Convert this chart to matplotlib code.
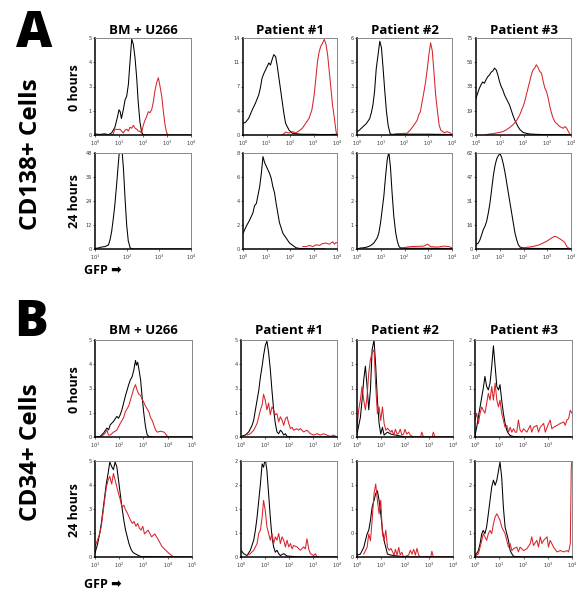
import numpy as np
import matplotlib
matplotlib.use("Agg")
import matplotlib.pyplot as plt

# ---------------- datos (x en log10 del canal GFP, y = cuentas) ----------------
# Panel A, CD138+ : BM + U266
a_bm0_blk_x = [0.0, 0.2, 0.4, 0.55, 0.62, 0.7, 0.83, 0.93, 1.0, 1.05, 1.1, 1.18, 1.25, 1.32, 1.39, 1.46, 1.53, 1.6, 1.67, 1.74, 1.8, 1.87, 1.94, 2.0, 2.2, 3.0, 4.0]
a_bm0_blk_y = [0.05, 0.03, 0.06, 0.02, 0.05, 0.12, 0.4, 0.9, 1.3, 1.2, 0.85, 1.3, 1.8, 2.0, 2.6, 3.8, 4.95, 4.65, 3.95, 2.9, 1.7, 0.7, 0.17, 0.02, 0.0, 0.0, 0.0]
a_bm0_red_x = [0.7, 0.76, 0.83, 0.93, 1.04, 1.18, 1.25, 1.32, 1.39, 1.46, 1.53, 1.6, 1.67, 1.74, 1.8, 1.87, 1.94, 2.01, 2.08, 2.15, 2.22, 2.29, 2.36, 2.43, 2.5, 2.57, 2.64, 2.71, 2.78, 2.85, 2.92, 2.99, 3.06]
a_bm0_red_y = [0.0, 0.05, 0.3, 0.28, 0.3, 0.1, 0.25, 0.3, 0.2, 0.4, 0.35, 0.5, 0.35, 0.3, 0.2, 0.2, 0.1, 0.5, 0.75, 0.95, 1.2, 1.15, 1.3, 1.7, 2.3, 2.7, 2.95, 2.5, 2.0, 1.2, 0.5, 0.1, 0.0]
a_bm24_blk_x = [1.0, 1.1, 1.21, 1.31, 1.42, 1.47, 1.52, 1.57, 1.62, 1.68, 1.73, 1.78, 1.83, 1.89, 1.94, 1.99, 2.04, 2.1, 2.2, 4.0]
a_bm24_blk_y = [0.3, 0.5, 1.0, 1.2, 2.0, 4.6, 8.7, 15, 22, 33, 43, 52, 52, 40, 25, 12, 4, 0.5, 0.0, 0.0]

# Panel A : Patient #1
a_p10_blk_x = [0.0, 0.1, 0.24, 0.39, 0.53, 0.67, 0.74, 0.81, 0.89, 0.96, 1.03, 1.1, 1.17, 1.24, 1.31, 1.39, 1.46, 1.53, 1.6, 1.67, 1.74, 1.81, 1.96, 2.1, 2.24, 2.5, 3.0, 3.5, 4.0]
a_p10_blk_y = [1.7, 1.8, 2.4, 3.6, 4.6, 5.8, 6.8, 8.2, 8.9, 9.4, 9.9, 10.4, 10.1, 10.9, 11.6, 11.3, 9.9, 8.2, 6.5, 4.8, 3.1, 1.7, 0.7, 0.25, 0.2, 0.1, 0.1, 0.05, 0.1]
a_p10_red_x = [1.67, 1.81, 1.96, 2.1, 2.24, 2.39, 2.53, 2.67, 2.81, 2.93, 3.03, 3.1, 3.17, 3.24, 3.31, 3.39, 3.46, 3.53, 3.6, 3.67, 3.74, 3.81, 3.89, 3.96, 4.0]
a_p10_red_y = [0.0, 0.4, 0.3, 0.5, 0.3, 0.6, 1.0, 1.7, 2.4, 3.6, 5.8, 8.2, 10.6, 12.0, 12.8, 13.3, 13.8, 13.1, 11.6, 9.2, 6.8, 4.3, 2.4, 0.5, 0.0]
a_p124_blk_x = [0.0, 0.14, 0.28, 0.42, 0.49, 0.57, 0.64, 0.71, 0.78, 0.85, 0.92, 0.99, 1.06, 1.13, 1.2, 1.27, 1.34, 1.41, 1.48, 1.55, 1.7, 1.84, 1.98, 2.12, 2.26, 2.4, 3.0, 3.5]
a_p124_blk_y = [1.3, 1.9, 2.4, 3.0, 3.6, 3.8, 4.5, 5.2, 6.3, 7.7, 7.2, 6.9, 6.6, 6.3, 5.9, 5.2, 4.7, 3.8, 3.0, 2.2, 1.3, 0.9, 0.5, 0.3, 0.1, 0.05, 0.0, 0.0]
a_p124_red_x = [2.54, 2.69, 2.83, 2.97, 3.11, 3.25, 3.39, 3.53, 3.67, 3.82, 3.89, 3.96, 4.0]
a_p124_red_y = [0.2, 0.2, 0.3, 0.2, 0.35, 0.3, 0.45, 0.5, 0.4, 0.6, 0.4, 0.55, 0.5]

# Panel A : Patient #2
a_p20_blk_x = [0.0, 0.1, 0.24, 0.39, 0.53, 0.6, 0.67, 0.74, 0.81, 0.89, 0.96, 1.03, 1.1, 1.17, 1.24, 1.31, 1.39, 1.46, 2.0, 3.0, 4.0]
a_p20_blk_y = [0.2, 0.3, 0.5, 0.7, 1.0, 1.35, 1.85, 2.7, 4.1, 5.0, 5.8, 5.4, 4.1, 2.7, 1.45, 0.6, 0.1, 0.03, 0.05, 0.05, 0.03]
a_p20_red_x = [1.53, 1.67, 1.96, 2.1, 2.24, 2.39, 2.53, 2.6, 2.67, 2.74, 2.81, 2.89, 2.96, 3.03, 3.1, 3.17, 3.24, 3.31, 3.39, 3.46, 3.53, 3.67, 3.81, 3.96]
a_p20_red_y = [0.05, 0.08, 0.1, 0.1, 0.3, 0.6, 0.9, 1.25, 1.45, 2.05, 2.6, 3.3, 4.1, 5.0, 5.7, 5.2, 3.9, 2.5, 1.45, 0.6, 0.3, 0.15, 0.2, 0.1]
a_p224_blk_x = [0.0, 0.14, 0.28, 0.42, 0.57, 0.71, 0.85, 0.92, 0.99, 1.06, 1.13, 1.2, 1.27, 1.34, 1.41, 1.48, 1.55, 1.63, 1.7, 1.77, 1.84, 2.2, 3.0, 4.0]
a_p224_blk_y = [0.0, 0.04, 0.05, 0.08, 0.14, 0.25, 0.46, 0.67, 1.08, 1.64, 2.2, 3.0, 3.7, 4.05, 3.4, 2.3, 1.36, 0.67, 0.32, 0.1, 0.04, 0.03, 0.03, 0.02]
a_p224_red_x = [1.9, 2.26, 2.81, 2.97, 3.1, 3.39, 3.66, 3.87, 4.0]
a_p224_red_y = [0.05, 0.1, 0.12, 0.2, 0.1, 0.08, 0.12, 0.1, 0.05]

# Panel A : Patient #3
a_p30_blk_x = [0.0, 0.07, 0.14, 0.21, 0.28, 0.35, 0.42, 0.49, 0.57, 0.64, 0.71, 0.78, 0.85, 0.92, 0.99, 1.06, 1.13, 1.2, 1.27, 1.34, 1.41, 1.48, 1.55, 1.63, 1.7, 1.77, 1.84, 1.98, 2.12, 2.26, 2.54, 3.0, 4.0]
a_p30_blk_y = [28.4, 32.3, 36, 38.8, 41, 40, 42.6, 45, 46.5, 48.6, 49.6, 51.7, 50.4, 46.5, 41.3, 37.5, 34.9, 31, 28.4, 25.8, 23.3, 19.4, 15.5, 11.6, 9, 6.5, 4.4, 2, 1.3, 0.8, 0.5, 0.3, 0.3]
a_p30_red_x = [0.42, 0.57, 0.71, 0.85, 0.99, 1.13, 1.27, 1.41, 1.55, 1.7, 1.84, 1.98, 2.05, 2.12, 2.19, 2.26, 2.33, 2.4, 2.47, 2.54, 2.61, 2.69, 2.76, 2.83, 2.9, 2.97, 3.04, 3.11, 3.18, 3.25, 3.32, 3.39, 3.53, 3.67, 3.75, 3.82, 3.89, 3.96]
a_p30_red_y = [0.2, 0.8, 1, 1.5, 2, 2.6, 3.9, 5.7, 7.8, 10.9, 15.5, 22, 25.8, 31, 36.2, 41.3, 46.5, 50.4, 51.7, 54.3, 52.2, 49, 47.8, 41.3, 36.2, 33.6, 28.4, 22, 16.8, 12.9, 10.3, 9, 6.5, 5.2, 6.5, 5.2, 2.6, 0.5]
a_p324_blk_x = [0.0, 0.1, 0.17, 0.24, 0.31, 0.38, 0.45, 0.52, 0.59, 0.66, 0.73, 0.8, 0.87, 0.94, 1.01, 1.08, 1.15, 1.22, 1.29, 1.36, 1.43, 1.5, 1.57, 1.64, 1.71, 1.78, 1.85, 1.99, 2.27, 3.0, 4.0]
a_p324_blk_y = [2.8, 3.9, 6.1, 9.3, 12.6, 14.8, 18, 23.4, 29.9, 38.6, 47.3, 53.8, 58.1, 60.3, 61.6, 59.2, 54.9, 49.5, 43, 36.4, 29.9, 23.4, 16.9, 10.4, 6.1, 2.8, 1.3, 0.7, 0.4, 0.3, 0.3]
a_p324_red_x = [1.85, 1.99, 2.13, 2.27, 2.41, 2.55, 2.69, 2.83, 2.98, 3.12, 3.26, 3.33, 3.4, 3.54, 3.68, 3.75, 3.82, 3.89, 3.96]
a_p324_red_y = [0.3, 0.7, 1.1, 1.3, 1.7, 2.2, 2.8, 3.9, 5, 6.5, 7.8, 8.2, 7.8, 6.5, 5, 3.9, 1.7, 0.7, 0.3]

# Panel B, CD34+ : BM + U266
b_bm0_blk_x = [1.0, 1.21, 1.35, 1.49, 1.56, 1.63, 1.76, 1.9, 1.97, 2.04, 2.11, 2.18, 2.25, 2.32, 2.39, 2.46, 2.53, 2.6, 2.67, 2.71, 2.76, 2.81, 2.88, 2.94, 3.01, 3.08, 3.15, 3.22, 3.4, 5.0]
b_bm0_blk_y = [0.0, 0.03, 0.2, 0.46, 0.37, 0.63, 0.8, 1.06, 0.97, 1.15, 1.4, 1.75, 2.1, 2.4, 2.7, 2.95, 3.1, 3.45, 3.95, 3.7, 3.85, 3.5, 2.95, 2.1, 1.25, 0.55, 0.12, 0.03, 0.0, 0.0]
b_bm0_red_x = [1.28, 1.42, 1.49, 1.56, 1.63, 1.76, 1.9, 2.04, 2.18, 2.25, 2.32, 2.39, 2.46, 2.53, 2.6, 2.67, 2.74, 2.81, 2.88, 2.94, 3.01, 3.08, 3.15, 3.22, 3.29, 3.36, 3.43, 3.5, 3.57, 3.71, 3.85, 3.92, 3.99, 4.06]
b_bm0_red_y = [0.03, 0.2, 0.35, 0.1, 0.1, 0.25, 0.35, 0.7, 1.0, 1.3, 1.45, 1.6, 1.9, 2.2, 2.5, 2.7, 2.4, 2.2, 2.15, 1.95, 1.8, 1.6, 1.45, 1.3, 1.0, 0.85, 0.6, 0.35, 0.25, 0.3, 0.25, 0.15, 0.03, 0.0]
b_bm24_blk_x = [1.0, 1.11, 1.19, 1.26, 1.33, 1.4, 1.47, 1.54, 1.61, 1.69, 1.76, 1.83, 1.9, 1.97, 2.04, 2.11, 2.19, 2.26, 2.33, 2.4, 2.47, 2.54, 2.61, 2.76, 2.9, 5.0]
b_bm24_blk_y = [0.2, 0.7, 1.2, 1.75, 2.45, 3.15, 3.85, 4.35, 4.95, 4.7, 4.55, 4.95, 4.7, 4.0, 3.3, 2.6, 1.9, 1.4, 1.05, 0.7, 0.45, 0.28, 0.2, 0.1, 0.02, 0.0]
b_bm24_red_x = [1.0, 1.11, 1.19, 1.26, 1.33, 1.4, 1.47, 1.54, 1.61, 1.69, 1.76, 1.83, 1.9, 1.97, 2.04, 2.11, 2.19, 2.26, 2.33, 2.4, 2.47, 2.54, 2.61, 2.69, 2.76, 2.83, 2.9, 2.97, 3.04, 3.19, 3.33, 3.47, 3.61, 3.76, 3.9, 4.04, 4.19, 4.26]
b_bm24_red_y = [0.55, 0.9, 1.2, 1.6, 2.3, 3.0, 3.65, 4.0, 4.2, 3.8, 4.35, 4.0, 3.65, 3.3, 3.0, 2.6, 2.7, 2.45, 2.3, 2.1, 1.9, 1.75, 1.85, 1.6, 1.75, 1.5, 1.4, 1.6, 1.2, 1.4, 1.05, 1.2, 0.9, 0.55, 0.37, 0.2, 0.05, 0.0]

# Panel B : Patient #1
b_p10_blk_x = [0.0, 0.18, 0.32, 0.39, 0.46, 0.53, 0.6, 0.67, 0.74, 0.81, 0.88, 0.94, 1.01, 1.08, 1.15, 1.22, 1.29, 1.36, 1.43, 1.5, 1.57, 1.64, 1.71, 1.78, 1.85, 1.92, 2.2, 4.0]
b_p10_blk_y = [0.03, 0.1, 0.26, 0.43, 0.6, 0.87, 1.4, 1.9, 2.4, 3.1, 3.65, 4.2, 4.7, 4.95, 4.35, 3.5, 2.4, 1.4, 0.7, 0.26, 0.17, 0.35, 0.26, 0.1, 0.17, 0.03, 0.0, 0.0]
b_p10_red_x = [0.25, 0.39, 0.53, 0.67, 0.74, 0.81, 0.88, 0.94, 1.01, 1.08, 1.15, 1.22, 1.29, 1.36, 1.43, 1.5, 1.57, 1.64, 1.71, 1.78, 1.85, 1.92, 1.99, 2.06, 2.13, 2.19, 2.33, 2.4, 2.47, 2.61, 2.75, 2.89, 3.03, 3.17, 3.31, 3.44, 3.58, 3.72, 3.86, 4.0]
b_p10_red_y = [0.1, 0.17, 0.35, 0.7, 1.04, 1.4, 1.65, 2.2, 1.9, 1.4, 1.75, 1.15, 1.55, 1.4, 1.15, 1.2, 0.78, 1.04, 0.87, 0.6, 0.95, 1.04, 0.7, 0.43, 0.5, 0.35, 0.43, 0.35, 0.43, 0.26, 0.35, 0.17, 0.1, 0.17, 0.1, 0.17, 0.1, 0.03, 0.1, 0.0]
b_p124_blk_x = [0.0, 0.11, 0.25, 0.39, 0.53, 0.6, 0.67, 0.74, 0.81, 0.88, 0.94, 1.01, 1.08, 1.15, 1.22, 1.29, 1.36, 1.43, 1.5, 1.57, 1.64, 1.78, 1.92, 2.5, 4.0]
b_p124_blk_y = [0.14, 0.07, 0.03, 0.14, 0.35, 0.56, 0.83, 1.18, 1.53, 1.94, 1.87, 2.05, 1.8, 1.32, 0.83, 0.42, 0.21, 0.1, 0.14, 0.07, 0.03, 0.07, 0.02, 0.0, 0.0]
b_p124_red_x = [0.25, 0.39, 0.53, 0.67, 0.74, 0.81, 0.88, 0.94, 1.01, 1.08, 1.15, 1.22, 1.29, 1.36, 1.43, 1.5, 1.57, 1.64, 1.71, 1.78, 1.85, 1.92, 1.99, 2.06, 2.13, 2.19, 2.33, 2.47, 2.61, 2.68, 2.75, 2.82, 2.89, 3.03, 3.1, 3.17]
b_p124_red_y = [0.03, 0.07, 0.14, 0.28, 0.49, 0.56, 0.83, 1.18, 0.97, 0.63, 0.49, 0.35, 0.49, 0.28, 0.42, 0.35, 0.49, 0.28, 0.42, 0.35, 0.21, 0.35, 0.21, 0.28, 0.17, 0.24, 0.21, 0.14, 0.21, 0.17, 0.38, 0.17, 0.07, 0.03, 0.07, 0.0]

# Panel B : Patient #2
b_p20_blk_x = [0.0, 0.14, 0.21, 0.28, 0.35, 0.42, 0.49, 0.56, 0.63, 0.71, 0.78, 0.85, 0.92, 0.99, 1.06, 1.13, 1.27, 1.41, 2.0, 4.0]
b_p20_blk_y = [0.03, 0.2, 0.38, 0.59, 0.73, 0.52, 0.28, 0.49, 0.9, 1.0, 0.73, 0.38, 0.14, 0.03, 0.1, 0.02, 0.05, 0.03, 0.0, 0.0]
b_p20_red_x = [0.0, 0.07, 0.14, 0.21, 0.28, 0.35, 0.42, 0.49, 0.56, 0.63, 0.71, 0.78, 0.85, 0.92, 0.99, 1.06, 1.13, 1.2, 1.27, 1.41, 1.46, 1.53, 1.6, 1.67, 1.74, 1.8, 1.87, 1.94, 2.0, 2.07, 2.15, 2.22, 2.36, 2.65, 2.7, 2.77, 3.13, 3.18, 3.25, 4.0]
b_p20_red_y = [0.1, 0.28, 0.38, 0.52, 0.38, 0.28, 0.42, 0.66, 0.8, 0.87, 0.9, 0.52, 0.24, 0.31, 0.17, 0.31, 0.14, 0.07, 0.09, 0.05, 0.07, 0.02, 0.08, 0.03, 0.04, 0.08, 0.02, 0.03, 0.08, 0.03, 0.05, 0.02, 0.0, 0.0, 0.05, 0.0, 0.0, 0.05, 0.0, 0.0]
b_p224_blk_x = [0.0, 0.14, 0.28, 0.35, 0.42, 0.49, 0.56, 0.63, 0.71, 0.78, 0.85, 0.92, 0.99, 1.06, 1.13, 1.2, 1.27, 1.41, 2.0, 4.0]
b_p224_blk_y = [0.02, 0.03, 0.1, 0.17, 0.24, 0.28, 0.38, 0.52, 0.59, 0.66, 0.69, 0.59, 0.45, 0.28, 0.17, 0.1, 0.03, 0.02, 0.0, 0.0]
b_p224_red_x = [0.28, 0.42, 0.49, 0.56, 0.63, 0.71, 0.78, 0.85, 0.92, 0.99, 1.06, 1.13, 1.2, 1.27, 1.34, 1.41, 1.55, 1.6, 1.67, 1.74, 1.8, 1.87, 1.94, 2.15, 2.22, 2.29, 2.36, 2.43, 2.5, 2.57, 2.63, 3.07, 3.12, 3.18, 4.0]
b_p224_red_y = [0.03, 0.1, 0.24, 0.17, 0.38, 0.66, 0.76, 0.59, 0.45, 0.59, 0.24, 0.17, 0.28, 0.1, 0.07, 0.09, 0.02, 0.08, 0.02, 0.1, 0.02, 0.05, 0.0, 0.02, 0.07, 0.03, 0.08, 0.02, 0.09, 0.02, 0.0, 0.0, 0.06, 0.0, 0.0]

# Panel B : Patient #3
b_p30_blk_x = [0.0, 0.07, 0.14, 0.21, 0.28, 0.34, 0.41, 0.48, 0.55, 0.62, 0.69, 0.76, 0.83, 0.9, 0.97, 1.03, 1.1, 1.17, 1.24, 1.31, 1.38, 1.45, 1.59, 2.0, 4.0]
b_p30_blk_y = [0.03, 0.2, 0.42, 0.62, 0.83, 1.0, 1.25, 1.04, 0.97, 1.11, 1.46, 1.88, 1.46, 1.04, 0.97, 1.08, 0.76, 0.49, 0.28, 0.14, 0.07, 0.03, 0.01, 0.0, 0.0]
b_p30_red_x = [0.0, 0.07, 0.14, 0.21, 0.28, 0.34, 0.41, 0.48, 0.55, 0.62, 0.69, 0.76, 0.83, 0.9, 0.97, 1.03, 1.1, 1.17, 1.24, 1.31, 1.38, 1.45, 1.52, 1.59, 1.66, 1.72, 1.79, 1.86, 1.93, 2.0, 2.14, 2.28, 2.34, 2.41, 2.55, 2.62, 2.69, 2.83, 2.9, 2.97, 3.1, 3.17, 3.24, 3.38, 3.52, 3.66, 3.72, 3.79, 3.86, 3.93, 4.0]
b_p30_red_y = [0.35, 0.49, 0.28, 0.49, 0.62, 0.55, 0.49, 0.69, 0.9, 0.76, 1.04, 0.76, 1.11, 0.76, 0.62, 0.76, 0.49, 0.35, 0.2, 0.24, 0.1, 0.2, 0.1, 0.17, 0.1, 0.1, 0.35, 0.14, 0.1, 0.17, 0.1, 0.24, 0.1, 0.2, 0.24, 0.1, 0.2, 0.28, 0.1, 0.2, 0.35, 0.17, 0.2, 0.24, 0.28, 0.31, 0.24, 0.35, 0.38, 0.55, 0.49]
b_p324_blk_x = [0.0, 0.14, 0.21, 0.28, 0.34, 0.41, 0.48, 0.55, 0.62, 0.69, 0.76, 0.83, 0.9, 0.97, 1.03, 1.1, 1.17, 1.24, 1.31, 1.38, 1.45, 1.52, 1.59, 2.0, 4.0]
b_p324_blk_y = [0.02, 0.2, 0.42, 0.73, 0.83, 0.73, 0.94, 1.35, 1.77, 2.19, 2.4, 2.24, 2.4, 2.7, 2.97, 2.5, 1.56, 0.94, 0.73, 0.52, 0.2, 0.1, 0.02, 0.0, 0.0]
b_p324_red_x = [0.0, 0.14, 0.21, 0.28, 0.34, 0.41, 0.48, 0.55, 0.62, 0.69, 0.76, 0.83, 0.9, 0.97, 1.03, 1.1, 1.17, 1.24, 1.31, 1.38, 1.45, 1.52, 1.59, 1.72, 1.79, 1.86, 2.0, 2.14, 2.28, 2.34, 2.41, 2.55, 2.62, 2.69, 2.76, 2.83, 2.97, 3.03, 3.1, 3.24, 3.38, 3.52, 3.66, 3.79, 3.86, 3.93, 3.97, 3.99]
b_p324_red_y = [0.02, 0.1, 0.31, 0.52, 0.73, 0.63, 0.52, 0.73, 0.83, 0.73, 1.04, 1.25, 1.35, 1.25, 1.15, 0.94, 0.83, 0.73, 0.52, 0.31, 0.42, 0.2, 0.26, 0.31, 0.16, 0.31, 0.2, 0.26, 0.42, 0.63, 0.36, 0.52, 0.31, 0.63, 0.42, 0.52, 0.63, 0.31, 0.52, 0.31, 0.16, 0.2, 0.16, 0.2, 0.16, 0.42, 2.8, 3.0]

# columnas / filas
columnas = ["BM + U266", "Patient #1", "Patient #2", "Patient #3"]
filas = ["0 hours", "24 hours"]

# ---------------- figura ----------------
W, H = 581, 601
fig = plt.figure(figsize=(W / 100, H / 100), dpi=100)
FAM = ["Open Sans", "DejaVu Sans"]
ROJO = "#d8232a"


def caja(x0, x1, yt, yb):
    return [x0 / W, 1 - yb / H, (x1 - x0) / W, (yb - yt) / H]


def histo(pos, negro, rojo, ytop, ylabs, xdec=(0, 4), xlabs=None):
    ax = fig.add_axes(caja(*pos))
    ax.plot(10 ** np.array(negro[0]), negro[1], color="black", lw=0.75)
    if rojo is not None:
        ax.plot(10 ** np.array(rojo[0]), rojo[1], color=ROJO, lw=0.75)
    ax.set_xscale("log")
    ax.set_xlim(10 ** xdec[0], 10 ** xdec[1])
    ax.set_ylim(0, ytop)
    dec = list(range(xdec[0], xdec[1] + 1))
    ax.set_xticks([10 ** d for d in dec])
    if xlabs is None:
        xlabs = ["$10^{%d}$" % d for d in dec]
    ax.set_xticklabels(xlabs)
    ax.xaxis.set_minor_locator(matplotlib.ticker.NullLocator())
    ax.set_yticks(np.linspace(0, ytop, 5))
    ax.set_yticklabels(ylabs)
    ax.tick_params(labelsize=3.5, length=1.5, width=0.5, pad=1, colors="#333333")
    for s in ["left", "bottom"]:
        ax.spines[s].set_linewidth(1.1)
        ax.spines[s].set_color("black")
    for s in ["top", "right"]:
        ax.spines[s].set_linewidth(0.7)
        ax.spines[s].set_color("#888888")
    return ax


# --- panel A ---
colA = [(95, 191), (243, 337), (357, 452), (476, 571)]
filaA = [(38, 135), (153, 249)]
L5 = ["0", "1", "3", "4", "5"]

histo(colA[0] + filaA[0], (a_bm0_blk_x, a_bm0_blk_y), (a_bm0_red_x, a_bm0_red_y), 5, L5)
histo(colA[0] + filaA[1], (a_bm24_blk_x, a_bm24_blk_y), None, 48, ["0", "12", "24", "36", "48"], xdec=(1, 4))
histo(colA[1] + filaA[0], (a_p10_blk_x, a_p10_blk_y), (a_p10_red_x, a_p10_red_y), 14, ["0", "4", "7", "11", "14"])
histo(colA[1] + filaA[1], (a_p124_blk_x, a_p124_blk_y), (a_p124_red_x, a_p124_red_y), 8, ["0", "2", "4", "6", "8"])
histo(colA[2] + filaA[0], (a_p20_blk_x, a_p20_blk_y), (a_p20_red_x, a_p20_red_y), 6, ["0", "2", "3", "5", "6"])
histo(colA[2] + filaA[1], (a_p224_blk_x, a_p224_blk_y), (a_p224_red_x, a_p224_red_y), 4, ["0", "1", "2", "3", "4"])
histo(colA[3] + filaA[0], (a_p30_blk_x, a_p30_blk_y), (a_p30_red_x, a_p30_red_y), 75, ["0", "19", "38", "56", "75"])
histo(colA[3] + filaA[1], (a_p324_blk_x, a_p324_blk_y), (a_p324_red_x, a_p324_red_y), 62, ["0", "16", "31", "47", "62"])

# --- panel B ---
colB = [(95, 192), (241, 337), (357, 453), (475, 572)]
filaB = [(340, 437), (461, 557)]

histo(colB[0] + filaB[0], (b_bm0_blk_x, b_bm0_blk_y), (b_bm0_red_x, b_bm0_red_y), 5, L5, xdec=(1, 5))
histo(colB[0] + filaB[1], (b_bm24_blk_x, b_bm24_blk_y), (b_bm24_red_x, b_bm24_red_y), 5, L5, xdec=(1, 5))
histo(colB[1] + filaB[0], (b_p10_blk_x, b_p10_blk_y), (b_p10_red_x, b_p10_red_y), 5, L5)
histo(colB[1] + filaB[1], (b_p124_blk_x, b_p124_blk_y), (b_p124_red_x, b_p124_red_y), 2, ["0", "1", "1", "2", "2"])
histo(colB[2] + filaB[0], (b_p20_blk_x, b_p20_blk_y), (b_p20_red_x, b_p20_red_y), 1, ["0", "0", "1", "1", "1"])
histo(colB[2] + filaB[1], (b_p224_blk_x, b_p224_blk_y), (b_p224_red_x, b_p224_red_y), 1, ["0", "0", "1", "1", "1"])
histo(colB[3] + filaB[0], (b_p30_blk_x, b_p30_blk_y), (b_p30_red_x, b_p30_red_y), 2, ["0", "1", "1", "2", "2"],
      xlabs=["$10^{0}$", "$10^{1}$", "$10^{2}$", "$10^{3}$", ""])
histo(colB[3] + filaB[1], (b_p324_blk_x, b_p324_blk_y), (b_p324_red_x, b_p324_red_y), 3, ["0", "1", "2", "2", "3"])

# --- textos ---
def txt(x, y, s, size, rot=0, weight="bold"):
    fig.text(x / W, 1 - y / H, s, fontsize=size, rotation=rot, ha="center", va="center",
             fontweight=weight, family=FAM)


for cols, ytit in [(colA, 31), (colB, 331)]:
    for (x0, x1), nombre in zip(cols, columnas):
        txt((x0 + x1) / 2, ytit, nombre, 9.5)

for yc, s in [(88, filas[0]), (201, filas[1]), (390, filas[0]), (510, filas[1])]:
    txt(74, yc, s, 9, rot=90)

txt(31, 154, "CD138+ Cells", 17.5, rot=90)
txt(31, 452, "CD34+ Cells", 17.5, rot=90)
txt(34, 34, "A", 36, weight="heavy")
txt(31, 323, "B", 36, weight="heavy")
txt(103, 270, "GFP \u27a1", 9)
txt(103, 585, "GFP \u27a1", 9)

fig.savefig("out.png", dpi=100, facecolor="white")
